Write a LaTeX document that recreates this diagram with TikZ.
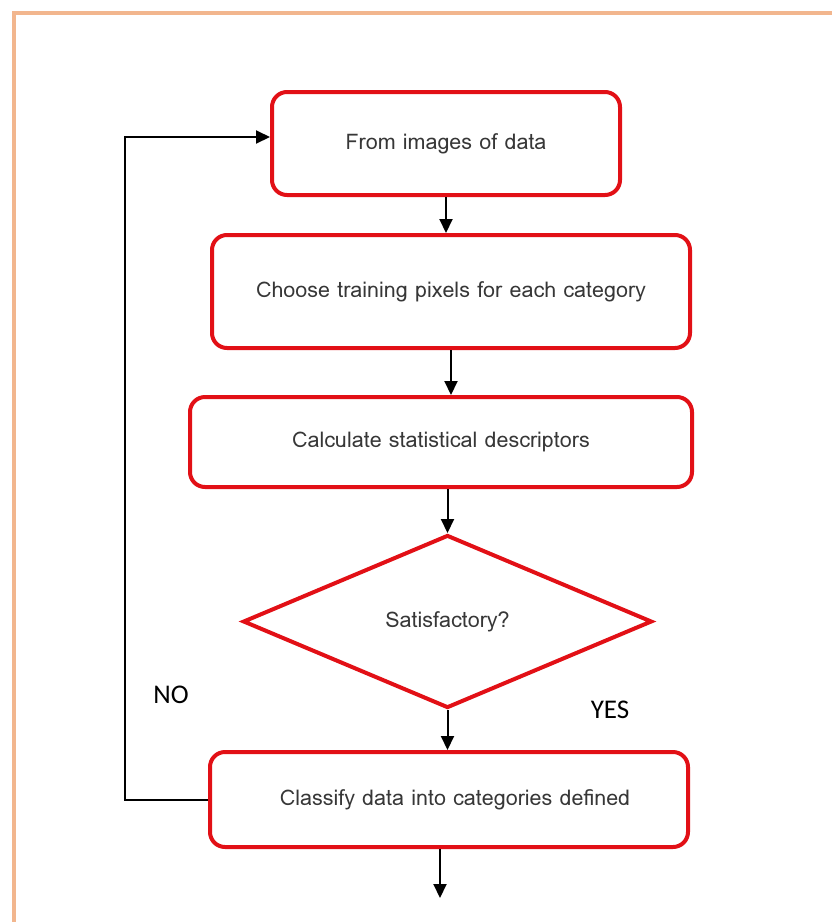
\documentclass[tikz,border=0pt]{standalone}
\usepackage{fontspec}
\usepackage{tikz}
\usetikzlibrary{positioning,arrows.meta,shapes.geometric}
\newfontfamily\boxfont{Loma}
\newfontfamily\labelfont{Carlito}
\definecolor{flowred}{RGB}{226, 16, 22}
\definecolor{frameorange}{RGB}{242, 182, 142}
\definecolor{textgray}{RGB}{55, 55, 55}

\begin{document}
\begin{tikzpicture}[x=1pt, y=-1pt,
  box/.style={draw=flowred, line width=4pt, rounded corners=15pt, fill=white,
    text=textgray, font=\boxfont\fontsize{21.5}{25}\selectfont, align=center},
  decision/.style={diamond, draw=flowred, line width=4pt, fill=white, aspect=2.36,
    text=textgray, font=\boxfont\fontsize{21.5}{25}\selectfont, inner sep=0pt},
  flow/.style={-{Triangle[length=14pt, width=13pt]}, line width=2pt, black},
  answer/.style={font=\labelfont\fontsize{27}{30}\selectfont, text=black}]
\useasboundingbox (0,0) rectangle (832,922);
\clip (0,0) rectangle (832,922);
% outer frame, cut by the page edge
\draw[frameorange, line width=4pt] (14,940) -- (14,13) -- (850,13);

\node[box, minimum width=348pt, minimum height=103pt] (images) at (446,143.5) {From images of data};
\node[box, minimum width=478pt, minimum height=113pt] (training) at (451,291.5) {Choose training pixels for each category};
\node[box, minimum width=502pt, minimum height=90pt] (stats) at (441,442) {Calculate statistical descriptors};
\node[decision, minimum width=409pt, minimum height=173pt] (ok) at (447.5,621.5) {Satisfactory?};
\node[box, minimum width=478pt, minimum height=95pt] (classify) at (449,799.5) {\hspace{12pt}Classify data into categories defined};

\node[answer] (no) at (171,695) {NO};
\node[answer] (yes) at (610,710) {YES};

\coordinate (loop) at (125,137);
\coordinate (result) at (440,898);

\draw[flow] (images.south) -- (images.south |- training.north);
\draw[flow] (training.south) -- (training.south |- stats.north);
\draw[flow] (ok.north |- stats.south) -- (ok.north);
\draw[flow] (ok.south) -- (ok.south |- classify.north);
\draw[flow] (classify.south -| result) -- (result);
\draw[flow] (classify.west) -| (loop) -- (loop -| images.west);
\end{tikzpicture}
\end{document}
